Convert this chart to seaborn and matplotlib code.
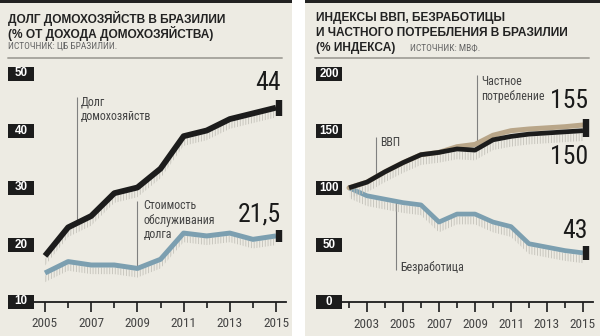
import matplotlib
matplotlib.use("Agg")
import matplotlib.pyplot as plt
import matplotlib.transforms as mtransforms
from matplotlib.patches import Rectangle
import seaborn as sns

# ---------------- data ----------------
years_left = list(range(2005, 2016))
household_debt = [18, 23, 25, 29, 30, 33.3, 39, 40, 42, 43, 44]
debt_service = [15, 17, 16.4, 16.4, 15.8, 17.4, 22, 21.5, 22, 20.9, 21.5]

years_right = list(range(2002, 2016))
gdp_index = [100, 105, 114, 122, 129, 131, 134, 133, 142, 145, 147, 148, 149, 150]
consumption_index = [100, 105, 114, 122, 129, 131, 136, 138, 146, 150, 151.5, 152.5, 153.5, 155]
unemployment_index = [100, 93, 90, 87, 85, 70, 77, 77, 70, 66, 51, 48, 45, 43]

left_yticks = [10, 20, 30, 40, 50]
right_yticks = [0, 50, 100, 150, 200]
left_xlabels = [2005, 2007, 2009, 2011, 2013, 2015]
right_xlabels = [2003, 2005, 2007, 2009, 2011, 2013, 2015]

left_title = ["ДОЛГ ДОМОХОЗЯЙСТВ В БРАЗИЛИИ", "(% ОТ ДОХОДА ДОМОХОЗЯЙСТВА)"]
left_source = "ИСТОЧНИК: ЦБ БРАЗИЛИИ."
right_title = ["ИНДЕКСЫ ВВП, БЕЗРАБОТИЦЫ", "И ЧАСТНОГО ПОТРЕБЛЕНИЯ В БРАЗИЛИИ", "(% ИНДЕКСА)"]
right_source = "ИСТОЧНИК: МВФ."

# ---------------- style ----------------
sns.set_theme(style="white")
NARROW = ["Roboto Condensed", "PT Sans Narrow", "DejaVu Sans"]
BOLD = ["Liberation Sans", "DejaVu Sans"]
plt.rcParams["font.family"] = NARROW
plt.rcParams["hatch.linewidth"] = 0.6

BG = "#edebe3"
INK = "#1c1c1c"
BLUE = "#7c9fb0"
TAN = "#b9a689"
GREY_TXT = "#444444"
LEAD = "#808080"
HATCH = "#c2c0b8"

W, H = 600, 336
fig = plt.figure(figsize=(W / 100, H / 100), dpi=100, facecolor="white")


def fx(px):
    return px / W


def fy(py):
    return 1 - py / H


# panel backgrounds + top bars
for x0, x1 in [(0, 292), (305, 600)]:
    fig.patches.append(Rectangle((fx(x0), 0), fx(x1 - x0), 1, transform=fig.transFigure,
                                 facecolor=BG, edgecolor="none", zorder=-10))
    fig.patches.append(Rectangle((fx(x0), fy(3)), fx(x1 - x0), 3 / H, transform=fig.transFigure,
                                 facecolor="#222222", edgecolor="none", zorder=-9))

# rules under the titles
for x0, x1 in [(8, 282), (315, 589)]:
    fig.add_artist(plt.Line2D([fx(x0), fx(x1)], [fy(58), fy(58)], transform=fig.transFigure,
                              color="#a9a7a0", lw=1.4, zorder=-8))

# titles
for i, line in enumerate(left_title):
    fig.text(fx(8), fy(11.5 + 14.6 * i), line, ha="left", va="top", fontsize=8.6,
             fontweight="bold", family=BOLD, color="#222222")
fig.text(fx(8), fy(41.5), left_source, ha="left", va="top", fontsize=6.8, color="#666666")
for i, line in enumerate(right_title):
    fig.text(fx(316), fy(12 + 15 * i), line, ha="left", va="top", fontsize=8.6,
             fontweight="bold", family=BOLD, color="#222222")
fig.text(fx(410), fy(43.5), right_source, ha="left", va="top", fontsize=6.8, color="#666666")


def make_axes(x_left, x_right, y_base, y_top, year0, px_year0, px_per_year, v0, px_per_unit):
    ax = fig.add_axes([fx(x_left), fy(y_base), fx(x_right - x_left), (y_base - y_top) / H])
    ax.set_facecolor("none")
    ax.set_xlim(year0 + (x_left - px_year0) / px_per_year, year0 + (x_right - px_year0) / px_per_year)
    ax.set_ylim(v0, v0 + (y_base - y_top) / px_per_unit)
    for s in ["top", "right", "left"]:
        ax.spines[s].set_visible(False)
    ax.spines["bottom"].set_color(INK)
    ax.spines["bottom"].set_linewidth(1.3)
    ax.set_yticks([])
    return ax


axL = make_axes(34, 286, 301.5, 62, 2005, 45, 23.1, 10, 5.7)
axR = make_axes(342, 593, 302, 62, 2002, 349, 18.0, 0, 1.142)


def style_xaxis(ax, labels, minor):
    ax.set_xticks(labels)
    ax.set_xticklabels([str(y) for y in labels])
    ax.set_xticks(minor, minor=True)
    ax.tick_params(axis="x", which="major", direction="out", length=7, width=1.2, color=INK,
                   pad=4.5, labelsize=9.5, labelcolor=GREY_TXT, bottom=True)
    ax.tick_params(axis="x", which="minor", direction="out", length=4, width=1.2, color=INK, bottom=True)


style_xaxis(axL, left_xlabels, years_left)
style_xaxis(axR, right_xlabels, years_right)


def ybox_labels(ax, ticks, x0px, px_per_unit):
    trans = mtransforms.blended_transform_factory(fig.transFigure, ax.transData)
    h = 14 / px_per_unit
    for v in ticks:
        ax.add_patch(Rectangle((fx(x0px), v - h / 2), fx(26), h, transform=trans,
                               facecolor=INK, edgecolor="none", clip_on=False, zorder=5))
        ax.text(fx(x0px + 13), v, str(v), transform=trans, ha="center", va="center",
                fontsize=8.4, fontweight="bold", family=BOLD, color="white", zorder=6, clip_on=False)


ybox_labels(axL, left_yticks, 8, 5.7)
ybox_labels(axR, right_yticks, 316, 1.142)


def series(ax, xs, ys, color, lw, shade, z):
    lo = [v - shade[0] for v in ys]
    hi = [v - shade[1] for v in ys]
    ax.fill_between(xs, hi, lo, facecolor="none", edgecolor=HATCH, hatch="||||||",
                    linewidth=0, zorder=z - 0.5)
    sns.lineplot(x=xs, y=ys, ax=ax, color=color, lw=lw, zorder=z,
                 solid_joinstyle="round", solid_capstyle="butt", legend=False)


def endcap(ax, x, y, size):
    tr = mtransforms.offset_copy(ax.transData, fig=fig, x=3, y=0, units="dots")
    ax.plot([x], [y], marker="|", ms=size, mew=4.6, color=INK, transform=tr, zorder=10, clip_on=False)


# left chart
series(axL, years_left, debt_service, BLUE, 3.6, (0.45, 1.6), 3)
series(axL, years_left, household_debt, INK, 4.2, (0.5, 1.7), 4)
endcap(axL, years_left[-1], household_debt[-1], 11)
endcap(axL, years_left[-1], debt_service[-1], 8.5)

# right chart
series(axR, years_right, unemployment_index, BLUE, 3.4, (2.2, 9), 3)
series(axR, years_right, gdp_index, INK, 3.4, (2.2, 9), 5)
sns.lineplot(x=years_right, y=consumption_index, ax=axR, color=TAN, lw=3.6, zorder=4,
             solid_joinstyle="round", legend=False)
endcap(axR, years_right[-1], (gdp_index[-1] + consumption_index[-1]) / 2, 13.5)
endcap(axR, years_right[-1], unemployment_index[-1], 10)


def endlabel(ax, x, y, txt, dy):
    ax.annotate(txt, xy=(x, y), xytext=(5, dy), textcoords="offset pixels", ha="right",
                va="center", fontsize=18.5, color="#1a1a1a", zorder=10)


endlabel(axL, years_left[-1], household_debt[-1], "44", 25)
endlabel(axL, years_left[-1], debt_service[-1], "21,5", 21)
endlabel(axR, years_right[-1], consumption_index[-1], "155", 24)
endlabel(axR, years_right[-1], gdp_index[-1], "150", -26)
endlabel(axR, years_right[-1], unemployment_index[-1], "43", 22)


def callout(ax, x_line, y_from, y_to, x_txt, y_txt, txt, va="top"):
    ax.vlines(x_line, y_to, y_from, color=LEAD, lw=0.8, zorder=2)
    ax.text(x_txt, y_txt, txt, ha="left", va=va, fontsize=8.6, color=GREY_TXT,
            linespacing=1.15, zorder=6)


callout(axL, 2006.39, 45.9, 23.8, 2006.55, 46.2, "Долг\nдомохозяйств")
callout(axL, 2009.0, 27.6, 15.8, 2009.25, 27.9, "Стоимость\nобслуживания\nдолга")
callout(axR, 2003.5, 144.5, 109, 2003.72, 145, "ВВП")
callout(axR, 2009.1, 198.8, 138, 2009.35, 198.5, "Частное\nпотребление")
callout(axR, 2004.6, 88, 28, 2004.82, 30.5, "Безработица", va="center")

fig.savefig("out.png", dpi=100, facecolor="white")
